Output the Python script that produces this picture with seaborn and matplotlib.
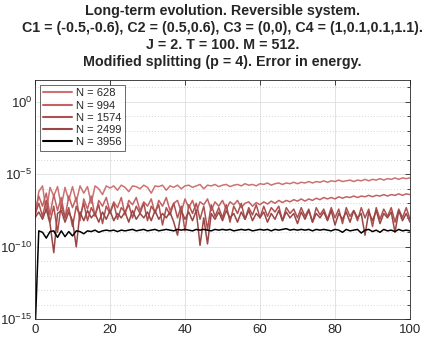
import numpy as np
import pandas as pd
import seaborn as sns
import matplotlib.pyplot as plt
from matplotlib.ticker import FixedLocator, FixedFormatter, NullFormatter

# time axis (one sample per unit of time)
t = list(range(0, 101))

# log10 of the energy error
err_628 = [-8.0,
    -6.2, -5.8, -7.6, -5.9, -6.5, -5.85, -7.2, -5.9, -6.8, -5.85,
    -6.9, -5.8, -6.3, -5.85, -7.0, -5.8, -6.0, -6.4, -5.8, -5.95,
    -5.8, -6.1, -5.75, -5.9, -6.2, -5.8, -5.85, -6.0, -5.75, -5.9,
    -6.3, -5.8, -5.85, -5.75, -6.1, -5.8, -5.9, -5.75, -6.0, -5.8,
    -5.75, -5.9, -5.8, -5.7, -6.0, -5.75, -5.8, -5.7, -5.85, -5.75,
    -5.7, -5.85, -5.75, -5.7, -5.8, -5.65, -5.75, -5.7, -5.8, -5.65,
    -5.7, -5.6, -5.75, -5.65, -5.6, -5.7, -5.6, -5.65, -5.55, -5.65,
    -5.55, -5.6, -5.5, -5.6, -5.5, -5.55, -5.45, -5.55, -5.45, -5.5,
    -5.4, -5.5, -5.45, -5.4, -5.5, -5.4, -5.45, -5.35, -5.45, -5.35,
    -5.4, -5.3, -5.4, -5.3, -5.35, -5.25, -5.35, -5.25, -5.3, -5.25]

err_994 = [-7.6,
    -6.5, -7.2, -6.3, -7.8, -6.4, -7.5, -6.6, -8.0, -6.5, -7.3,
    -6.6, -8.2, -6.7, -7.4, -6.5, -7.9, -6.8, -7.2, -6.6, -7.6,
    -6.9, -7.3, -6.6, -7.8, -6.8, -7.1, -6.6, -7.5, -6.9, -7.2,
    -6.7, -7.7, -6.8, -7.2, -6.6, -7.5, -7.0, -6.8, -7.6, -6.7,
    -7.3, -6.8, -7.6, -6.9, -7.1, -6.7, -7.5, -6.9, -7.2, -6.8,
    -7.4, -6.9, -7.1, -6.8, -7.3, -7.0, -6.9, -7.2, -6.95, -7.1,
    -6.9, -7.05, -6.85, -7.0, -6.8, -6.95, -6.8, -6.9, -6.75, -6.85,
    -6.7, -6.85, -6.7, -6.8, -6.65, -6.75, -6.6, -6.7, -6.6, -6.7,
    -6.55, -6.65, -6.55, -6.6, -6.5, -6.6, -6.5, -6.55, -6.45, -6.55,
    -6.45, -6.5, -6.4, -6.5, -6.4, -6.45, -6.35, -6.45, -6.35, -6.4]

err_1574 = [-7.8,
    -7.0, -7.9, -6.8, -8.3, -7.2, -9.0, -7.1, -8.0, -7.3, -8.6,
    -7.2, -7.9, -7.0, -8.2, -7.3, -7.8, -7.1, -8.4, -7.2, -7.7,
    -7.0, -8.1, -7.3, -7.6, -7.1, -8.0, -7.2, -7.7, -7.0, -8.2,
    -7.2, -7.6, -7.1, -8.5, -7.3, -7.8, -7.0, -8.0, -7.2, -8.9,
    -7.1, -7.7, -7.0, -8.1, -7.2, -8.8, -7.1, -7.9, -7.3, -8.0,
    -7.1, -8.3, -7.2, -7.7, -7.0, -8.1, -7.3, -7.8, -7.1, -8.0,
    -7.2, -7.9, -7.3, -7.6, -7.2, -8.2, -7.3, -7.7, -7.4, -8.0,
    -7.3, -7.9, -7.4, -8.3, -7.3, -7.8, -7.4, -8.1, -7.3, -8.0,
    -7.4, -8.4, -7.3, -7.9, -7.5, -8.2, -7.3, -8.0, -7.4, -8.6,
    -7.3, -8.1, -7.4, -7.9, -7.3, -8.3, -7.4, -8.0, -7.3, -8.1]

err_2499 = [-8.0,
    -7.6, -8.1, -7.4, -8.4, -10.4, -7.7, -7.5, -8.3, -7.6, -8.2,
    -10.0, -7.6, -8.2, -7.5, -8.0, -7.7, -8.3, -7.6, -8.1, -7.5,
    -8.2, -7.7, -8.0, -7.6, -8.3, -7.5, -8.1, -7.7, -8.0, -7.6,
    -8.2, -7.5, -8.1, -7.7, -8.0, -7.6, -8.3, -9.2, -7.5, -8.1,
    -7.6, -8.2, -7.5, -9.9, -8.0, -9.8, -7.7, -8.1, -7.6, -8.2,
    -7.5, -8.0, -7.7, -8.3, -7.6, -8.1, -7.5, -8.2, -7.7, -8.0,
    -7.6, -8.3, -7.7, -8.1, -7.5, -8.2, -7.6, -8.0, -7.7, -8.4,
    -7.6, -8.1, -7.5, -8.3, -7.7, -8.0, -7.6, -8.2, -7.5, -8.5,
    -7.7, -8.1, -7.6, -8.3, -7.5, -8.0, -7.7, -9.2, -7.6, -8.2,
    -7.5, -8.4, -7.7, -8.0, -7.6, -9.0, -7.5, -8.2, -7.7, -8.3]

err_3956 = [-16.0,
    -8.9, -9.0, -9.4, -8.95, -8.9, -9.35, -8.9, -9.3, -8.95, -9.25,
    -8.9, -8.95, -9.1, -8.9, -8.95, -8.85, -9.0, -8.9, -8.85, -8.9,
    -8.85, -8.95, -8.85, -8.9, -8.85, -8.8, -8.9, -8.85, -8.8, -8.9,
    -8.85, -8.8, -8.9, -8.85, -8.8, -8.85, -8.9, -8.8, -8.85, -8.8,
    -8.85, -8.9, -8.8, -8.85, -8.8, -8.85, -8.9, -8.8, -8.85, -8.8,
    -8.85, -8.8, -8.9, -8.85, -8.8, -8.85, -8.8, -8.9, -8.85, -8.8,
    -8.85, -8.8, -8.9, -8.8, -8.85, -8.8, -8.75, -8.85, -8.8, -8.85,
    -8.8, -8.85, -8.8, -8.9, -8.8, -8.85, -8.8, -8.85, -8.9, -8.8,
    -8.85, -9.0, -8.8, -8.9, -8.85, -8.8, -9.05, -8.85, -8.8, -8.95,
    -8.85, -9.0, -8.8, -8.9, -8.85, -8.95, -8.8, -8.9, -8.85, -8.9]

labels = ['N = 628', 'N = 994', 'N = 1574', 'N = 2499', 'N = 3956']
series = [err_628, err_994, err_1574, err_2499, err_3956]
colors = ['#cc7272', '#c26262', '#ad5050', '#984646', '#000000']

rows = []
for lab, s in zip(labels, series):
    for ti, v in zip(t, s):
        rows.append((ti, 10.0 ** v, lab))
df = pd.DataFrame(rows, columns=['t', 'err', 'N'])

sns.set_style('white')
plt.rcParams['font.family'] = ['Liberation Sans', 'DejaVu Sans']

fig = plt.figure(figsize=(4.25, 3.39), dpi=100)
ax = fig.add_axes([0.0824, 0.058, 0.8823, 0.706])

sns.lineplot(data=df, x='t', y='err', hue='N', hue_order=labels,
             palette=colors, estimator=None, sort=False, ax=ax)
for ln in ax.lines:
    ln.set_linewidth(1.1)
ax.lines[-1].set_linewidth(1.5)

ax.set_yscale('log')
ax.set_xlim(0, 100)
ax.set_ylim(1e-15, 10 ** 1.5)

ax.xaxis.set_major_locator(FixedLocator([0, 20, 40, 60, 80, 100]))
ax.yaxis.set_major_locator(FixedLocator([1e-15, 1e-10, 1e-5, 1e0]))
ax.yaxis.set_major_formatter(FixedFormatter([r'$\mathregular{10^{-15}}$', r'$\mathregular{10^{-10}}$',
                                             r'$\mathregular{10^{-5}}$', r'$\mathregular{10^{0}}$']))
ax.yaxis.set_minor_locator(FixedLocator([10.0 ** k for k in range(-15, 2)]))
ax.yaxis.set_minor_formatter(NullFormatter())

ax.grid(True, which='major', color='#dedede', linewidth=0.6, linestyle='-')
ax.grid(True, which='minor', axis='y', color='#c8c8c8', linewidth=0.6, linestyle=(0, (1, 2.5)))
ax.set_axisbelow(True)

ax.tick_params(which='both', direction='in', top=True, right=True, colors='#262626',
               labelsize=9.5, width=0.6)
ax.tick_params(which='major', length=3.5)
ax.tick_params(which='minor', length=2)
ax.tick_params(axis='x', pad=3)
ax.tick_params(axis='y', pad=2)
for sp in ax.spines.values():
    sp.set_color('#262626')
    sp.set_linewidth(0.6)

ax.set_xlabel('')
ax.set_ylabel('')
ax.set_title('Long-term evolution. Reversible system.\n'
             'C1 = (-0.5,-0.6), C2 = (0.5,0.6), C3 = (0,0), C4 = (1,0.1,0.1,1.1).\n'
             'J = 2. T = 100. M = 512.\n'
             'Modified splitting (p = 4). Error in energy.',
             fontsize=10.3, fontweight='bold', linespacing=1.28, pad=10)

leg = ax.legend(loc='upper left', fontsize=8.0, frameon=True, fancybox=False,
                edgecolor='#262626', handlelength=2.6, labelspacing=0.2,
                borderaxespad=0.45, borderpad=0.3, handletextpad=0.35)
leg.get_frame().set_linewidth(0.6)
for h in leg.get_lines():
    h.set_linewidth(1.5)

plt.savefig('out.png', dpi=100)
